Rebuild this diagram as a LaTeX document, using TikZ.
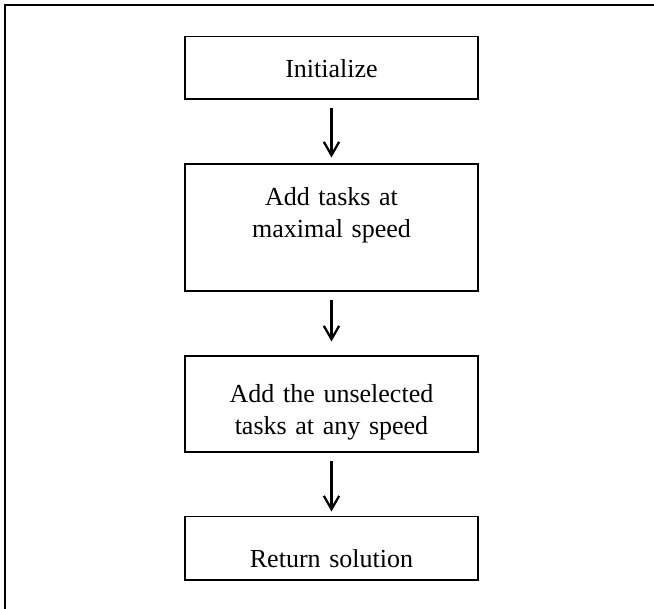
\documentclass[tikz,border=0pt]{standalone}
\usepackage{fontspec}
\setmainfont{Liberation Serif}
\usetikzlibrary{arrows.meta}
\begin{document}
\begin{tikzpicture}[x=0.75pt,y=-0.75pt,
  box/.style={draw,line width=0.8pt,minimum width=219.75pt,inner sep=0pt},
  lbl/.style={font=\fontsize{19.5}{24}\selectfont,text width=210pt,align=center,anchor=base,inner sep=0pt},
  arr/.style={line width=1.7pt,-{Straight Barb[length=10pt,width=11.5pt,line width=1.7pt]}}]
\useasboundingbox (0,0) rectangle (654,609);
\draw[line width=1.5pt] (654,5.4) -- (5.4,5.4) -- (5.4,609);
\node[box,minimum height=46.7pt] (b1) at (331.5,67.85) {};
\node[box,minimum height=95.25pt] (b2) at (331.5,227.5) {};
\node[box,minimum height=72pt] (b3) at (331.5,404) {};
\node[box,minimum height=47.5pt] (b4) at (331.5,548.35) {};
\node[lbl] (t1) at (331.5,77.7) {Initialize};
\node[lbl] (t2) at (331.5,206) {Add tasks at\\maximal speed};
\node[lbl] (t3) at (331.5,402.7) {Add the unselected\\tasks at any speed};
\node[lbl] (t4) at (331.5,568) {Return solution};
\draw[arr,shorten <=6pt,shorten >=4.5pt] (b1) -- (b2);
\draw[arr,shorten <=6pt,shorten >=10.5pt] (b2) -- (b3);
\draw[arr,shorten <=6pt,shorten >=3.5pt] (b3) -- (b4);
\end{tikzpicture}
\end{document}
